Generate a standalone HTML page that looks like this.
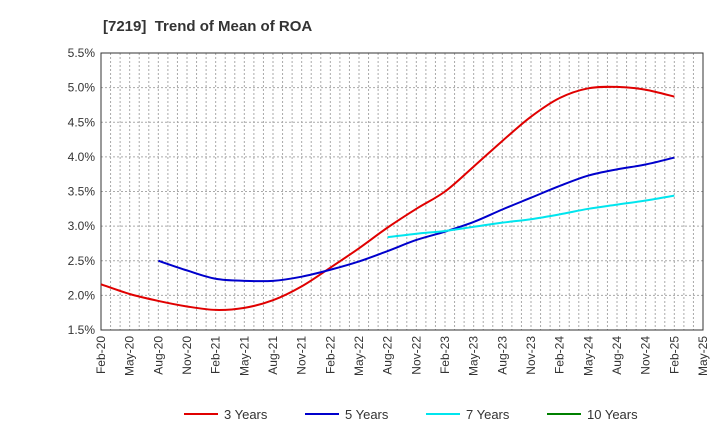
<!DOCTYPE html>
<html><head><meta charset="utf-8"><style>body{margin:0;background:#fff}svg{font-family:"Liberation Sans",sans-serif}</style></head>
<body>
<svg id="c" width="720" height="440"></svg>
<script>
const categories=["Feb-20","May-20","Aug-20","Nov-20","Feb-21","May-21","Aug-21","Nov-21","Feb-22","May-22","Aug-22","Nov-22","Feb-23","May-23","Aug-23","Nov-23","Feb-24","May-24","Aug-24","Nov-24","Feb-25","May-25"];
const yTicks=[1.5,2.0,2.5,3.0,3.5,4.0,4.5,5.0,5.5];
const s3=[2.16,2.02,1.92,1.84,1.79,1.82,1.93,2.13,2.40,2.68,2.98,3.25,3.50,3.86,4.23,4.58,4.85,4.99,5.01,4.97,4.87];
const s5=[null,null,2.50,2.36,2.24,2.21,2.21,2.27,2.37,2.49,2.64,2.80,2.92,3.06,3.24,3.41,3.58,3.73,3.82,3.89,3.99];
const s7=[null,null,null,null,null,null,null,null,null,null,2.84,2.89,2.93,2.99,3.05,3.10,3.17,3.25,3.31,3.37,3.44];
const s10=[];
const NS="http://www.w3.org/2000/svg",svg=document.getElementById('c');
const L=101,R=703,T=53,B=330;
const x=i=>L+i*(R-L)/(categories.length-1);
const y=v=>B-(v-1.5)/4*(B-T);
function el(t,a,p){const e=document.createElementNS(NS,t);for(const k in a)e.setAttribute(k,a[k]);(p||svg).appendChild(e);return e;}
const title=el('text',{x:103,y:31,'font-size':15,'font-weight':'bold',fill:'#333',style:'white-space:pre'});title.textContent="[7219]  Trend of Mean of ROA";


const grid=el('g',{});


for(let m=1;m<(categories.length-1)*3;m++){const xx=L+m*(R-L)/((categories.length-1)*3);el('line',{x1:xx,x2:xx,y1:T,y2:B,stroke:'#aaa','stroke-dasharray':'2,2'},grid);}
yTicks.forEach(v=>{el('line',{x1:L,x2:R,y1:y(v),y2:y(v),stroke:'#aaa','stroke-dasharray':'2,2'},grid);
const t=el('text',{x:L-6,y:y(v)+4,'font-size':12,'text-anchor':'end',fill:'#333'});t.textContent=v.toFixed(1)+'%';

});
el('rect',{x:L,y:T,width:R-L,height:B-T,fill:'none',stroke:'#333'});
categories.forEach((c,i)=>{const t=el('text',{transform:`translate(${x(i)+4},${B+6}) rotate(-90)`,'font-size':12,'text-anchor':'end',fill:'#333'});t.textContent=c;

});
function path(arr){const p=[];arr.forEach((v,i)=>{if(v!=null)p.push([x(i),y(v)]);});if(p.length<2)return'';
let d=`M${p[0][0]},${p[0][1]}`;for(let i=0;i<p.length-1;i++){const p0=p[i-1]||p[i],p1=p[i],p2=p[i+1],p3=p[i+2]||p2;
d+=` C${p1[0]+(p2[0]-p0[0])/6},${p1[1]+(p2[1]-p0[1])/6} ${p2[0]-(p3[0]-p1[0])/6},${p2[1]-(p3[1]-p1[1])/6} ${p2[0]},${p2[1]}`;}return d;}
[[s3,'#e00000','line-3-years'],[s5,'#0000cc','line-5-years'],[s7,'#00e5ee','line-7-years'],[s10,'#008000','line-10-years']].forEach(([s,c,n])=>{const d=path(s);if(!d)return;const e=el('path',{d:d,fill:'none',stroke:c,'stroke-width':2});

});
[['3 Years','#e00000',184],['5 Years','#0000cc',305],['7 Years','#00e5ee',426],['10 Years','#008000',547]].forEach(([t,c,lx])=>{const g=el('g',{});


el('line',{x1:lx,x2:lx+34,y1:414,y2:414,stroke:c,'stroke-width':2},g);const tt=el('text',{x:lx+40,y:419,'font-size':13,fill:'#333'},g);tt.textContent=t;});
</script>
</body></html>
